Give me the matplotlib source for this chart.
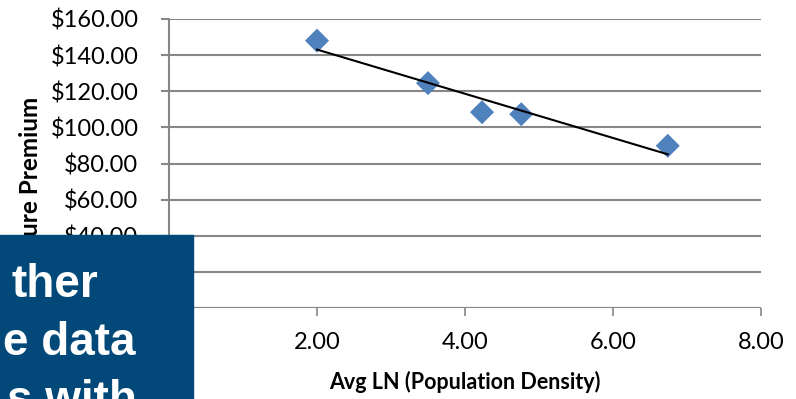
import numpy as np
import matplotlib
matplotlib.use("Agg")
import matplotlib.pyplot as plt
from matplotlib.patches import Rectangle

# values
avg_ln_density = [2.00, 3.50, 4.23, 4.76, 6.74]
pure_premium = [148.0, 124.5, 108.4, 107.3, 89.8]
y_ticks = [0, 20, 40, 60, 80, 100, 120, 140, 160]
x_ticks = [0, 2, 4, 6, 8]
box_lines = ["ther", "e data", "s with"]

W, H = 796, 399
fig = plt.figure(figsize=(W / 100, H / 100), dpi=100)
ax = fig.add_axes([169 / W, (H - 308) / H, (761 - 169) / W, (308 - 19) / H])

font = ["Lato", "DejaVu Sans"]
grid_c = "#878787"

ax.scatter(avg_ln_density, pure_premium, marker="D", s=150, color="#4F81BD",
           edgecolors="none", zorder=3)

# linear trendline over the data range
slope, intercept = np.polyfit(avg_ln_density, pure_premium, 1)
xs = np.array([min(avg_ln_density), max(avg_ln_density)])
ax.plot(xs, slope * xs + intercept, color="black", lw=1.5, zorder=4)

ax.set_xlim(0, 8)
ax.set_ylim(0, 160)
ax.set_yticks(y_ticks)
ax.set_xticks(x_ticks)
ax.set_yticklabels([f"${v:.2f}" for v in y_ticks], family=font, fontsize=17)
ax.set_xticklabels([f"{v:.2f}" for v in x_ticks], family=font, fontsize=17)
ax.yaxis.grid(True, color=grid_c, lw=1.5)
ax.set_axisbelow(True)
for side in ["top", "right", "bottom"]:
    ax.spines[side].set_visible(False)
ax.spines["left"].set_color(grid_c)
ax.spines["left"].set_linewidth(1.5)
ax.tick_params(axis="y", length=6, width=1.5, color=grid_c, pad=16)
ax.tick_params(axis="x", length=6, width=1.2, color=grid_c, pad=11)
ax.axhline(0, color=grid_c, lw=1.5, zorder=1)

ax.set_xlabel("Avg LN (Population Density)", family=font, fontsize=15.5,
              fontweight="bold", labelpad=13)
ax.set_ylabel("Pure Premium", family=font, fontsize=17.5, fontweight="bold",
              labelpad=6)
ax.yaxis.label.set_y(0.465)

# dark blue slide box covering the lower-left corner
fig.patches.append(Rectangle((0, 0), 193 / W, (H - 235) / H,
                             transform=fig.transFigure, color="#02497A",
                             zorder=10))
box_font = ["Liberation Sans", "DejaVu Sans"]
for i, (txt, x0) in enumerate(zip(box_lines, [12, 3, 7])):
    fig.text(x0 / W, (H - 297 - 58 * i) / H, txt, color="white",
             family=box_font, fontsize=33, fontweight="bold",
             va="baseline", ha="left", zorder=11)

fig.savefig("out.png", dpi=100, facecolor="white")
